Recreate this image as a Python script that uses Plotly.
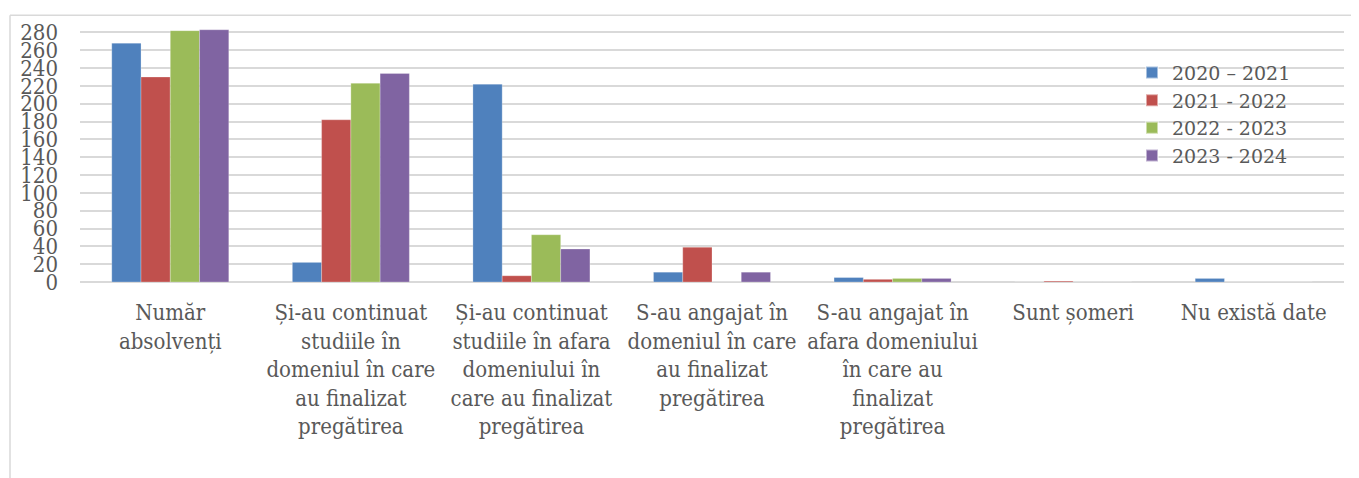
import plotly.graph_objects as go

categories = [
    "Număr<br>absolvenți",
    "Și-au continuat<br>studiile în<br>domeniul în care<br>au finalizat<br>pregătirea",
    "Și-au continuat<br>studiile în afara<br>domeniului în<br>care au finalizat<br>pregătirea",
    "S-au angajat în<br>domeniul în care<br>au finalizat<br>pregătirea",
    "S-au angajat în<br>afara domeniului<br>în care au<br>finalizat<br>pregătirea",
    "Sunt șomeri",
    "Nu există date",
]
series_names = ["2020 – 2021", "2021 - 2022", "2022 - 2023", "2023 - 2024"]
v2020_2021 = [268, 22, 222, 11, 5, 0, 4]
v2021_2022 = [230, 182, 7, 39, 3, 1, 0]
v2022_2023 = [282, 223, 53, 0, 4, 0, 0]
v2023_2024 = [283, 234, 37, 11, 4, 0, 0]
colors = ["#4F81BD", "#C0504D", "#9BBB59", "#8064A2"]
y_ticks = list(range(0, 281, 20))

# page body has an 8px margin: work in page pixels, convert to figure pixels
OFF = 8
W, H = 1359 - OFF, 478 - OFF
L = 80 - OFF
T = 24 - OFF
R = W - (1344 - OFF)
B = H - (282 - OFF)
FONT = "DejaVu Serif Condensed, DejaVu Serif"
FS = 22

fig = go.Figure()
for name, vals, col in zip(series_names, [v2020_2021, v2021_2022, v2022_2023, v2023_2024], colors):
    fig.add_trace(go.Bar(
        x=categories, y=vals, name=name,
        marker=dict(color=col, line=dict(color="rgba(255,255,255,0.5)", width=0.5)),
    ))

pw = W - L - R
ph = H - T - B
def px_x(p):
    return (p - OFF - L) / pw
def px_y(p):
    return (H - B - (p - OFF)) / ph

fig.update_layout(
    width=W, height=H,
    margin=dict(l=L, r=R, t=T, b=B, pad=0),
    paper_bgcolor="white", plot_bgcolor="white",
    barmode="group", bargap=0.352, bargroupgap=0,
    font=dict(family=FONT, size=FS, color="#595959"),
    showlegend=True,
    legend=dict(
        x=px_x(1132), y=px_y(50), xanchor="left", yanchor="top",
        font=dict(family="DejaVu Serif", size=19, color="#595959"),
        bgcolor="rgba(0,0,0,0)", tracegroupgap=0, itemsizing="constant",
    ),
    xaxis=dict(
        showgrid=False, showline=False, ticks="", zeroline=False,
        tickfont=dict(family=FONT, size=FS, color="#595959"),
        ticklabelstandoff=15,
    ),
    yaxis=dict(
        range=[0, 285], tickvals=y_ticks, ticktext=[str(v) for v in y_ticks],
        showgrid=True, gridcolor="#D9D9D9", gridwidth=2,
        zeroline=True, zerolinecolor="#D9D9D9", zerolinewidth=2,
        showline=False, ticks="",
        tickfont=dict(family=FONT, size=FS, color="#595959"),
        ticklabelstandoff=21,
    ),
    shapes=[
        dict(type="line", xref="paper", yref="paper",
             x0=px_x(10), x1=px_x(1365), y0=px_y(11), y1=px_y(11),
             line=dict(color="#D9D9D9", width=1.5)),
        dict(type="line", xref="paper", yref="paper",
             x0=px_x(10), x1=px_x(10), y0=px_y(11), y1=px_y(485),
             line=dict(color="#D9D9D9", width=1.5)),
    ],
)

fig.write_html("out.html")
